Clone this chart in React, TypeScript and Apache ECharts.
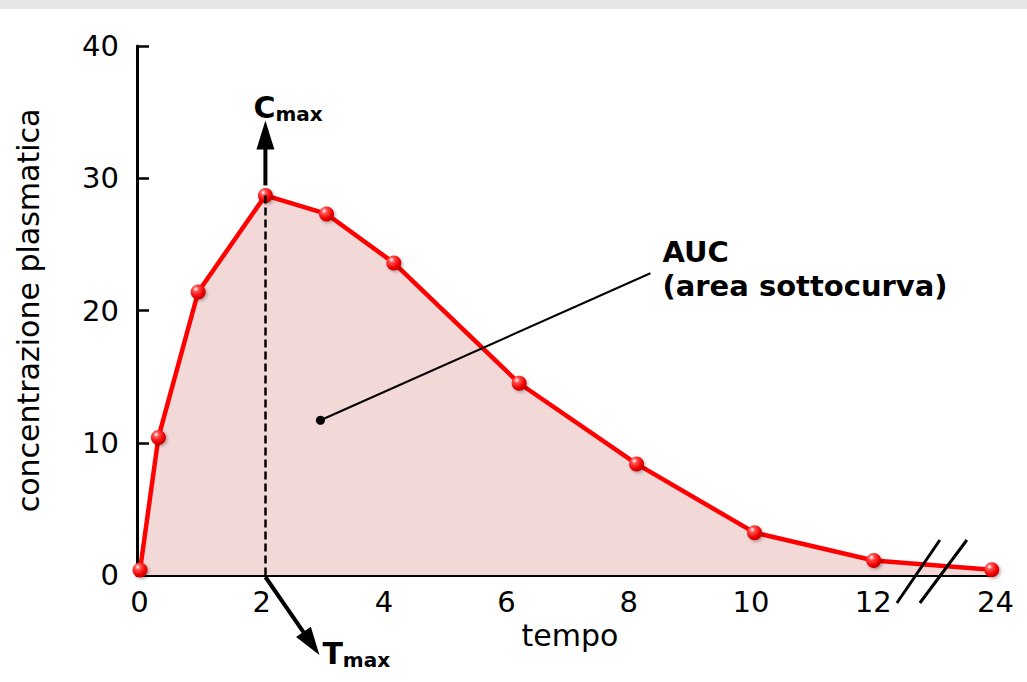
import React, { useEffect, useRef } from "react";
import * as echarts from "echarts";

// time positions on a compressed axis (14 stands for 24 h after the break)
const timePos = [0.05, 0.35, 1.0, 2.1, 3.1, 4.2, 6.25, 8.17, 10.1, 12.05, 13.98];
const conc = [0.38, 10.4, 21.4, 28.7, 27.3, 23.6, 14.5, 8.4, 3.2, 1.1, 0.4];
const xTicks = [0, 2, 4, 6, 8, 10, 12, 14];
const xTickLabels = ["0", "2", "4", "6", "8", "10", "12", "24"];
const yTicks = [0, 10, 20, 30, 40];
const tmax = 2.1;
const cmax = 28.7;
const aucPoint = [3.0, 11.7];
const aucLines = ["AUC", "(area sottocurva)"];

const FONT = "DejaVu Sans";

export default function App() {
  const ref = useRef<HTMLDivElement>(null);
  useEffect(() => {
    if (!ref.current) return;
    const chart = echarts.init(ref.current, undefined, { renderer: "svg" });
    const data = timePos.map((t, i) => [t, conc[i]]);
    chart.setOption({
      animation: false,
      grid: { left: 137, top: 46, width: 856, height: 529, containLabel: false },
      xAxis: {
        type: "value",
        min: 0,
        max: 14,
        interval: 2,
        name: "tempo",
        nameLocation: "middle",
        nameGap: 42,
        nameTextStyle: { fontFamily: FONT, fontSize: 30, color: "#000", padding: [0, 0, 0, 10] },
        axisLine: { lineStyle: { color: "#000", width: 3 } },
        axisTick: { inside: true, length: 12, lineStyle: { color: "#000", width: 2.5 } },
        axisLabel: {
          fontFamily: FONT,
          fontSize: 29,
          color: "#000",
          margin: 12,
          padding: [0, 0, 0, 5],
          formatter: (v: number) => xTickLabels[xTicks.indexOf(v)] ?? "",
        },
        splitLine: { show: false },
      },
      yAxis: {
        type: "value",
        min: 0,
        max: 40,
        interval: 10,
        name: "concentrazione plasmatica",
        nameLocation: "middle",
        nameGap: 94,
        nameTextStyle: { fontFamily: FONT, fontSize: 30, color: "#000" },
        axisLine: { show: true, lineStyle: { color: "#000", width: 3 } },
        axisTick: { show: true, inside: true, length: 12, lineStyle: { color: "#000", width: 2.5 } },
        axisLabel: {
          fontFamily: FONT,
          fontSize: 29,
          color: "#000",
          margin: 18,
          formatter: (v: number) => (yTicks.includes(v) ? String(v) : ""),
        },
        splitLine: { show: false },
      },
      series: [
        {
          type: "line",
          data,
          symbol: "circle",
          symbolSize: 15,
          lineStyle: { color: "#ff0000", width: 4.5 },
          areaStyle: { color: "rgb(243,216,216)", opacity: 1 },
          itemStyle: {
            color: new echarts.graphic.RadialGradient(0.35, 0.3, 0.75, [
              { offset: 0, color: "#ffffff" },
              { offset: 0.25, color: "#ff5050" },
              { offset: 0.7, color: "#f00000" },
              { offset: 1, color: "#c00000" },
            ]),
            shadowColor: "rgba(0,0,0,0.3)",
            shadowBlur: 3,
            shadowOffsetX: 1.5,
            shadowOffsetY: 1.5,
          },
          z: 3,
          markLine: {
            silent: true,
            symbol: ["none", "none"],
            label: { show: false },
            lineStyle: { color: "#000", type: [8, 4], width: 2.5 },
            data: [[{ coord: [tmax, cmax] }, { coord: [tmax, 0] }]],
          },
        },
      ],
    });

    const px = (x: number, y: number) => chart.convertToPixel({ gridIndex: 0 }, [x, y]) as number[];
    const top = px(tmax, cmax);
    const bottom = px(tmax, 0);
    const auc = px(aucPoint[0], aucPoint[1]);
    const brk = px(13, 0);

    // Tmax arrow direction
    const tx0 = bottom[0], ty0 = bottom[1] + 2;
    const tx1 = tx0 + 54, ty1 = ty0 + 78;
    const dl = Math.hypot(tx1 - tx0, ty1 - ty0);
    const ux = (tx1 - tx0) / dl, uy = (ty1 - ty0) / dl;
    const hl = 28, hw = 9;
    const bx = tx1 - ux * hl, by = ty1 - uy * hl;

    chart.setOption({
      graphic: [
        { type: "rect", shape: { x: 0, y: 0, width: 1027, height: 9 }, style: { fill: "#e6e6e6" } },
        // Cmax arrow
        {
          type: "line",
          shape: { x1: top[0], y1: top[1] - 10, x2: top[0], y2: top[1] - 50 },
          style: { stroke: "#000", lineWidth: 4 },
        },
        {
          type: "polygon",
          shape: { points: [[top[0], top[1] - 75], [top[0] - 9, top[1] - 46], [top[0] + 9, top[1] - 46]] },
          style: { fill: "#000" },
        },
        {
          type: "text",
          x: top[0] - 12,
          y: top[1] - 105,
          style: {
            text: "{c|C}{m|max}",
            rich: {
              c: { fontFamily: FONT, fontWeight: "bold", fontSize: 30, fill: "#000" },
              m: { fontFamily: FONT, fontWeight: "bold", fontSize: 20, fill: "#000", padding: [14, 0, 0, 0] },
            },
          },
        },
        // Tmax arrow
        {
          type: "line",
          shape: { x1: tx0, y1: ty0, x2: bx + ux * 4, y2: by + uy * 4 },
          style: { stroke: "#000", lineWidth: 4 },
        },
        {
          type: "polygon",
          shape: {
            points: [
              [tx1, ty1],
              [bx - uy * hw, by + ux * hw],
              [bx + uy * hw, by - ux * hw],
            ],
          },
          style: { fill: "#000" },
        },
        {
          type: "text",
          x: tx1 + 3,
          y: ty1 - 19,
          style: {
            text: "{c|T}{m|max}",
            rich: {
              c: { fontFamily: FONT, fontWeight: "bold", fontSize: 30, fill: "#000" },
              m: { fontFamily: FONT, fontWeight: "bold", fontSize: 20, fill: "#000", padding: [14, 0, 0, 0] },
            },
          },
        },
        // AUC pointer
        { type: "circle", shape: { cx: auc[0], cy: auc[1], r: 4.5 }, style: { fill: "#000" }, z: 10 },
        {
          type: "line",
          shape: { x1: auc[0], y1: auc[1], x2: auc[0] + 330, y2: auc[1] - 147 },
          style: { stroke: "#000", lineWidth: 2 },
          z: 10,
        },
        ...aucLines.map((t, i) => ({
          type: "text",
          x: auc[0] + 342,
          y: auc[1] - 183 + i * 34,
          style: {
            text: t,
            fontFamily: FONT,
            fontWeight: "bold",
            fontSize: 29,
            lineHeight: 29,
            fill: "#000",
          },
          z: 10,
        })),
        // axis break marks
        {
          type: "line",
          shape: { x1: brk[0] - 35, y1: brk[1] + 28, x2: brk[0] + 8, y2: brk[1] - 35 },
          style: { stroke: "#000", lineWidth: 3 },
          z: 10,
        },
        {
          type: "line",
          shape: { x1: brk[0] - 12, y1: brk[1] + 28, x2: brk[0] + 35, y2: brk[1] - 35 },
          style: { stroke: "#000", lineWidth: 3 },
          z: 10,
        },
      ],
    });
    return () => chart.dispose();
  }, []);
  return (
    <div
      ref={ref}
      style={{ position: "fixed", left: 0, top: 0, width: 1027, height: 682, background: "#fff" }}
    />
  );
}
